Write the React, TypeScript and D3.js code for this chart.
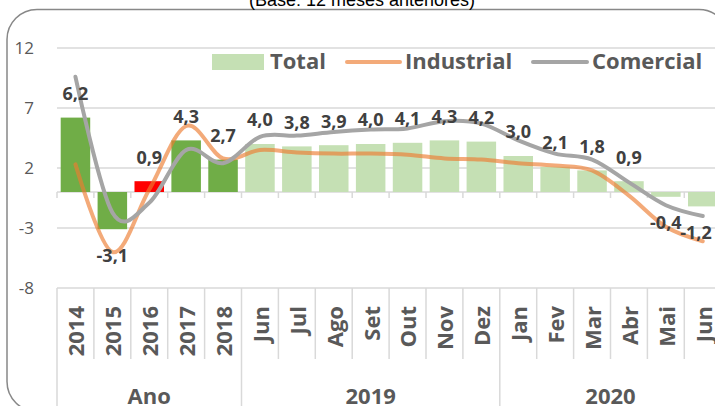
import React from 'react';
import * as d3 from 'd3';

// categorias (eixo multinível)
const categories = ['2014', '2015', '2016', '2017', '2018', 'Jun', 'Jul', 'Ago', 'Set', 'Out', 'Nov', 'Dez', 'Jan', 'Fev', 'Mar', 'Abr', 'Mai', 'Jun'];
const groupNames = ['Ano', '2019', '2020'];
const groupSizes = [5, 7, 6];

// séries
const total = [6.2, -3.1, 0.9, 4.3, 2.7, 4.0, 3.8, 3.9, 4.0, 4.1, 4.3, 4.2, 3.0, 2.1, 1.8, 0.9, -0.4, -1.2];
const industrial = [2.3, -5.0, 0.2, 5.5, 2.8, 3.5, 3.3, 3.2, 3.2, 3.1, 2.8, 2.7, 2.4, 2.2, 1.8, -0.3, -2.9, -4.1];
const comercial = [9.6, -1.7, -0.9, 3.5, 2.4, 4.6, 4.7, 5.0, 5.2, 5.3, 5.9, 5.7, 4.3, 3.2, 2.7, 0.8, -1.1, -2.0];

const yTicks = [12, 7, 2, -3, -8];

const W = 715;
const H = 406;
const left = 57;
const step = 36.9;
const axisY = 288;

const font = '"Open Sans", "DejaVu Sans", sans-serif';
const textGray = '#595959';
const labelGray = '#404040';
const gridColor = '#D9D9D9';

const barColor = (i: number) => {
  if (i === 2) return '#FF0000';
  if (i < 5) return '#70AD47';
  return '#C5E0B4';
};

const fmt = (v: number) => v.toFixed(1).replace('.', ',');

export default function App() {
  const idx = categories.map((_, i) => i);
  const x = d3.scaleBand<number>()
    .domain(idx)
    .range([left, left + step * categories.length])
    .paddingInner(0.2)
    .paddingOuter(0.1);
  const y = d3.scaleLinear().domain([-8, 12]).range([288, 48]);
  const cx = (i: number) => (x(i) as number) + x.bandwidth() / 2;
  const right = left + step * categories.length;

  const line = d3.line<number>()
    .x((_, i) => cx(i))
    .y(d => y(d))
    .curve(d3.curveCardinal.tension(0));

  // limites dos grupos
  const groupBounds: number[] = [0];
  groupSizes.forEach(s => groupBounds.push(groupBounds[groupBounds.length - 1] + s));
  const bx = (k: number) => left + step * k;

  return (
    <svg width={W} height={H} style={{ position: 'absolute', left: 0, top: 0, display: 'block' }}>
      <rect x={0} y={0} width={W} height={H} fill="#fff" />
      <rect x={7} y={9.5} width={722} height={402} rx={30} fill="none" stroke="#888" strokeWidth={1.5} />
      <text x={362} y={6} textAnchor="middle" fontFamily='"Liberation Sans", Arial, sans-serif' fontSize={18} fill="#000">
        (Base: 12 meses anteriores)
      </text>

      {/* grade */}
      {yTicks.map(t => (
        <g key={t}>
          <line x1={left} x2={right} y1={y(t)} y2={y(t)} stroke={gridColor} strokeWidth={1.5} />
          <text x={34} y={y(t)} dy="0.35em" textAnchor="end" fontFamily={font} fontSize={17} fill={textGray}>{t}</text>
        </g>
      ))}

      {/* eixo no zero com marcas */}
      <line x1={left} x2={right} y1={y(0)} y2={y(0)} stroke={gridColor} strokeWidth={1.5} />
      {d3.range(categories.length + 1).map(k => (
        <line key={k} x1={bx(k)} x2={bx(k)} y1={y(0)} y2={y(0) + 6} stroke={gridColor} strokeWidth={1.5} />
      ))}

      {/* barras */}
      {total.map((v, i) => (
        <rect key={i} x={x(i)} width={x.bandwidth()} y={y(Math.max(0, v))} height={Math.abs(y(v) - y(0))} fill={barColor(i)} />
      ))}

      {/* linhas */}
      <path d={line(industrial) || ''} fill="none" stroke="#ED7D31" strokeOpacity={0.65} strokeWidth={4} strokeLinecap="round" />
      <path d={line(comercial) || ''} fill="none" stroke="#A5A5A5" strokeWidth={4} strokeLinecap="round" />

      {/* rótulos de dados */}
      {total.map((v, i) => (
        <text key={i} x={Math.min(cx(i), W - 19)} y={v >= 0 ? y(v) - 24 : y(v) + 26} dy="0.35em" textAnchor="middle"
          fontFamily={font} fontWeight="bold" fontSize={18} fill={labelGray}>{fmt(v)}</text>
      ))}

      {/* eixo de categorias */}
      {d3.range(categories.length + 1).map(k => {
        const isGroup = groupBounds.includes(k);
        return <line key={k} x1={bx(k)} x2={bx(k)} y1={axisY} y2={isGroup ? H : 359} stroke={gridColor} strokeWidth={1.5} />;
      })}
      {categories.map((c, i) => (
        <text key={i} transform={`translate(${cx(i) + 1},306) rotate(-90)`} dy="0.36em" textAnchor="end"
          fontFamily={font} fontWeight="bold" fontSize={22} fill={textGray}>{c}</text>
      ))}
      {groupNames.map((g, k) => (
        <text key={g} x={(bx(groupBounds[k]) + bx(groupBounds[k + 1])) / 2} y={404} textAnchor="middle"
          fontFamily={font} fontWeight="bold" fontSize={22} fill={textGray}>{g}</text>
      ))}

      {/* legenda */}
      <g fontFamily={font} fontWeight="bold" fontSize={22} fill={textGray}>
        <rect x={212} y={54} width={52} height={16} fill="#C5E0B4" />
        <text x={270} y={69}>Total</text>
        <line x1={347} x2={400} y1={62} y2={62} stroke="#ED7D31" strokeOpacity={0.65} strokeWidth={4} strokeLinecap="round" />
        <text x={405} y={69}>Industrial</text>
        <line x1={533} x2={587} y1={62} y2={62} stroke="#A5A5A5" strokeWidth={4} strokeLinecap="round" />
        <text x={592} y={69}>Comercial</text>
      </g>
    </svg>
  );
}
